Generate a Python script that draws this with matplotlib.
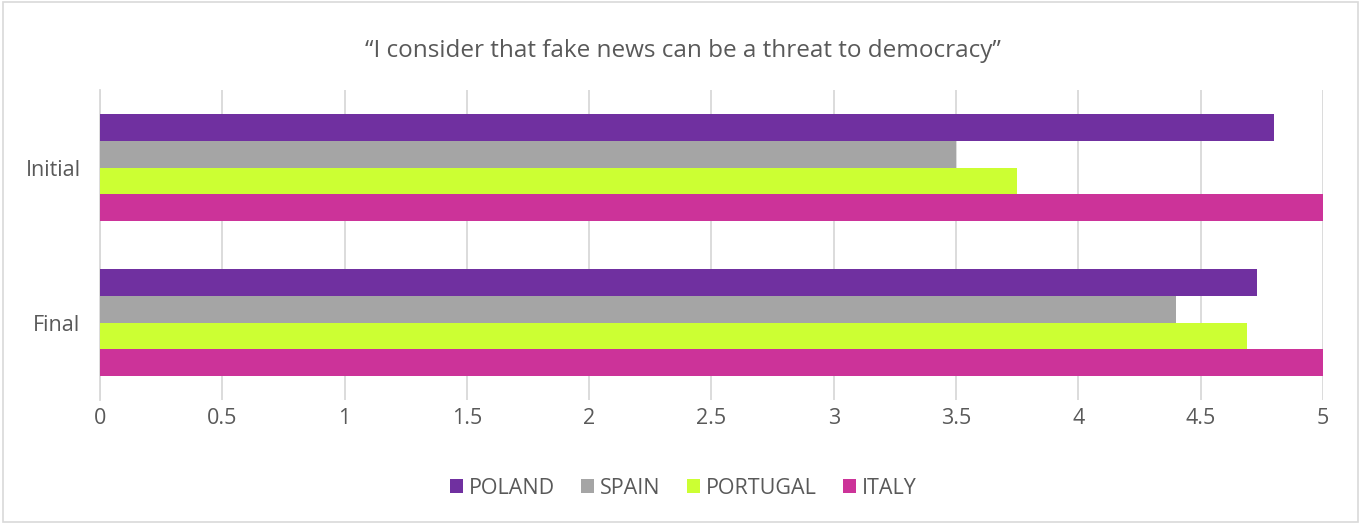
import numpy as np
import matplotlib.pyplot as plt
from matplotlib.patches import Rectangle

plt.rcParams['font.family'] = ['Open Sans', 'DejaVu Sans']

# survey answers, mean score per country
stages = ['Initial', 'Final']
countries = ['POLAND', 'SPAIN', 'PORTUGAL', 'ITALY']
poland = [4.80, 4.73]
spain = [3.50, 4.40]
portugal = [3.75, 4.69]
italy = [5.00, 5.00]
colors = ['#7030A0', '#A5A5A5', '#CCFF33', '#CC3399']
xticks = [0, 0.5, 1, 1.5, 2, 2.5, 3, 3.5, 4, 4.5, 5]

fig = plt.figure(figsize=(13.61, 5.24), dpi=100)
ax = fig.add_axes([0.0735, 0.2366, 0.8985, 0.5916])

y = np.arange(len(stages))
h = 0.173
series = [poland, spain, portugal, italy]
for i, vals in enumerate(series):
    ax.barh(y + (i - 1.5) * h, vals, height=h, color=colors[i],
            label=countries[i], zorder=3)

ax.set_ylim(1.5, -0.5)
ax.set_xlim(0, 5)
ax.set_xticks(xticks)
ax.set_xticklabels([('%g' % t) for t in xticks])
ax.set_yticks(y)
ax.set_yticklabels(stages)
ax.tick_params(axis='both', length=0, labelsize=15.5, colors='#595959')
ax.tick_params(axis='x', pad=6)
ax.tick_params(axis='y', pad=14)
ax.grid(axis='x', color='#D9D9D9', linewidth=1.3, zorder=0)
for s in ['top', 'right', 'bottom']:
    ax.spines[s].set_visible(False)
ax.spines['left'].set_color('#D9D9D9')
ax.spines['left'].set_linewidth(1.3)

fig.text(0.502, 0.902, '\u201cI consider that fake news can be a threat to democracy\u201d',
         ha='center', va='center', fontsize=17.5, color='#595959')

leg = fig.legend(loc='center', bbox_to_anchor=(0.502, 0.068), ncol=4, frameon=False,
                 fontsize=15.5, handlelength=0.6, handleheight=0.6, columnspacing=1.2,
                 handletextpad=0.3)
for t in leg.get_texts():
    t.set_color('#595959')

fig.patches.append(Rectangle((0.002, 0.003), 0.996, 0.994, transform=fig.transFigure,
                             fill=False, edgecolor='#D9D9D9', linewidth=1.2))

fig.savefig('out.png', dpi=100, facecolor='white')
